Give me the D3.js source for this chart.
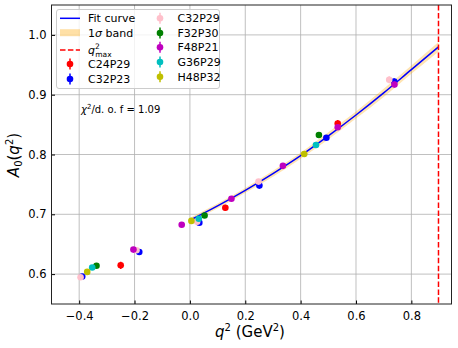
<!DOCTYPE html>
<html>
<head>
<meta charset="utf-8">
<script src="https://cdn.jsdelivr.net/npm/d3@7"></script>
<style>
  body { margin: 0; background: #fff; }
  svg { display: block; font-family: "DejaVu Sans", sans-serif; }
</style>
</head>
<body>
<div id="chart"></div>
<script>
// ---- data ----
var xTicks = [-0.4, -0.2, 0.0, 0.2, 0.4, 0.6, 0.8];
var yTicks = [0.6, 0.7, 0.8, 0.9, 1.0];
var qmax = 0.898;
var chi2 = "1.09";

// fit curve and 1 sigma band
var fitQ2 = [0.0, 0.1, 0.2, 0.3, 0.4, 0.5, 0.6, 0.7, 0.8, 0.898];
var fitA = [0.690, 0.714, 0.740, 0.768, 0.798, 0.831, 0.866, 0.903, 0.942, 0.980];
var fitErr = [0.004, 0.004, 0.004, 0.005, 0.005, 0.006, 0.006, 0.007, 0.007, 0.008];

var ensembles = ["C24P29", "C32P23", "C32P29", "F32P30", "F48P21", "G36P29", "H48P32"];
var ensColors = ["red", "blue", "pink", "green", "#bf00bf", "#00bfbf", "#bfbf00"];

var q2C24P29 = [-0.250, 0.128, 0.534];
var aC24P29 = [0.6147, 0.711, 0.8517];
var eC24P29 = [0.006, 0.005, 0.006];

var q2C32P23 = [-0.389, -0.183, 0.034, 0.251, 0.493, 0.738];
var aC32P23 = [0.596, 0.637, 0.686, 0.748, 0.828, 0.922];
var eC32P23 = [0.003, 0.003, 0.003, 0.003, 0.004, 0.005];

var q2C32P29 = [-0.395, -0.193, 0.026, 0.248, 0.720];
var aC32P29 = [0.5947, 0.640, 0.6875, 0.7547, 0.925];
var eC32P29 = [0.003, 0.003, 0.003, 0.004, 0.006];

var q2F32P30 = [-0.3375, 0.053, 0.466];
var aF32P30 = [0.614, 0.698, 0.8325];
var eF32P30 = [0.003, 0.003, 0.004];

var q2F48P21 = [-0.204, -0.0296, 0.150, 0.336, 0.534, 0.739];
var aF48P21 = [0.641, 0.6825, 0.726, 0.781, 0.8455, 0.917];
var eF48P21 = [0.003, 0.003, 0.003, 0.003, 0.004, 0.005];

var q2G36P29 = [-0.353, 0.032, 0.4555];
var aG36P29 = [0.611, 0.6925, 0.816];
var eG36P29 = [0.003, 0.003, 0.004];

var q2H48P32 = [-0.371, 0.0054, 0.413];
var aH48P32 = [0.6037, 0.689, 0.8008];
var eH48P32 = [0.003, 0.003, 0.004];

var seriesQ2 = [q2C24P29, q2C32P23, q2C32P29, q2F32P30, q2F48P21, q2G36P29, q2H48P32];
var seriesA = [aC24P29, aC32P23, aC32P29, aF32P30, aF48P21, aG36P29, aH48P32];
var seriesE = [eC24P29, eC32P23, eC32P29, eF32P30, eF48P21, eG36P29, eH48P32];

// ---- layout ----
var W = 458, H = 348;
var plot = { left: 51.5, right: 451.5, top: 5, bottom: 304 };

var x = d3.scaleLinear().domain([-0.5, 0.945]).range([plot.left, plot.right]);
var y = d3.scaleLinear().domain([0.55, 1.05]).range([plot.bottom, plot.top]);

var svg = d3.select("#chart").append("svg").attr("width", W).attr("height", H);

// clip
svg.append("clipPath").attr("id", "clip")
  .append("rect")
  .attr("x", plot.left).attr("y", plot.top)
  .attr("width", plot.right - plot.left).attr("height", plot.bottom - plot.top);

// grid
var grid = svg.append("g").attr("class", "grid");
grid.selectAll(".gx").data(xTicks).enter().append("line")
  .attr("x1", d => x(d)).attr("x2", d => x(d))
  .attr("y1", plot.top).attr("y2", plot.bottom)
  .attr("stroke", "#b0b0b0").attr("stroke-width", 0.8);
grid.selectAll(".gy").data(yTicks).enter().append("line")
  .attr("y1", d => y(d)).attr("y2", d => y(d))
  .attr("x1", plot.left).attr("x2", plot.right)
  .attr("stroke", "#b0b0b0").attr("stroke-width", 0.8);

var g = svg.append("g").attr("clip-path", "url(#clip)");

// 1 sigma band
var fitRows = fitQ2.map((q, i) => ({ q: q, a: fitA[i], e: fitErr[i] }));
g.append("path")
  .datum(fitRows)
  .attr("fill", "orange")
  .attr("fill-opacity", 0.3)
  .attr("d", d3.area().curve(d3.curveMonotoneX)
    .x(d => x(d.q)).y0(d => y(d.a - d.e)).y1(d => y(d.a + d.e)));

// fit curve
g.append("path")
  .datum(fitRows)
  .attr("fill", "none")
  .attr("stroke", "blue")
  .attr("stroke-width", 1.5)
  .attr("d", d3.line().curve(d3.curveMonotoneX).x(d => x(d.q)).y(d => y(d.a)));

// qmax line
g.append("line")
  .attr("x1", x(qmax)).attr("x2", x(qmax))
  .attr("y1", plot.top).attr("y2", plot.bottom)
  .attr("stroke", "red").attr("stroke-width", 1.5)
  .attr("stroke-dasharray", "5.5,2.4");

// data points with error bars
ensembles.forEach(function (name, k) {
  var rows = seriesQ2[k].map((q, i) => ({ q: q, a: seriesA[k][i], e: seriesE[k][i] }));
  var sg = g.append("g").attr("class", "ens-" + name);
  sg.selectAll("line").data(rows).enter().append("line")
    .attr("x1", d => x(d.q)).attr("x2", d => x(d.q))
    .attr("y1", d => y(d.a - d.e)).attr("y2", d => y(d.a + d.e))
    .attr("stroke", ensColors[k]).attr("stroke-width", 1.5);
  sg.selectAll("circle").data(rows).enter().append("circle")
    .attr("cx", d => x(d.q)).attr("cy", d => y(d.a))
    .attr("r", 3.3).attr("fill", ensColors[k]);
});

// axes (ticks pointing inward)
var xAxis = svg.append("g")
  .attr("transform", "translate(0," + plot.bottom + ")")
  .call(d3.axisBottom(x).tickValues(xTicks).tickFormat(d3.format(".1f")).tickSizeInner(-3.5).tickSizeOuter(0).tickPadding(7));
var yAxis = svg.append("g")
  .attr("transform", "translate(" + plot.left + ",0)")
  .call(d3.axisLeft(y).tickValues(yTicks).tickFormat(d3.format(".1f")).tickSizeInner(-3.5).tickSizeOuter(0).tickPadding(6));
[xAxis, yAxis].forEach(function (ax) {
  ax.select(".domain").remove();
  ax.selectAll("text").attr("font-size", 11.5).attr("fill", "#000")
    .attr("font-family", "DejaVu Sans, sans-serif");
  ax.selectAll("line").attr("stroke", "#000");
});
xAxis.selectAll("text").attr("dy", "0.75em");
yAxis.selectAll("text").attr("x", -5);

// frame
svg.append("rect")
  .attr("x", plot.left).attr("y", plot.top)
  .attr("width", plot.right - plot.left).attr("height", plot.bottom - plot.top)
  .attr("fill", "none").attr("stroke", "#222").attr("stroke-width", 1);

// axis labels
var xl = svg.append("text")
  .attr("x", 250).attr("y", 337)
  .attr("text-anchor", "middle").attr("font-size", 15);
xl.append("tspan").attr("font-style", "italic").text("q");
xl.append("tspan").attr("font-size", 10).attr("dy", -6).text("2");
xl.append("tspan").attr("dy", 6).text(" (GeV");
xl.append("tspan").attr("font-size", 10).attr("dy", -6).text("2");
xl.append("tspan").attr("dy", 6).text(")");

var yl = svg.append("text")
  .attr("transform", "translate(19,155) rotate(-90)")
  .attr("text-anchor", "middle").attr("font-size", 15);
yl.append("tspan").attr("font-style", "italic").text("A");
yl.append("tspan").attr("font-size", 10).attr("dy", 3).text("0");
yl.append("tspan").attr("dy", -3).text("(");
yl.append("tspan").attr("font-style", "italic").text("q");
yl.append("tspan").attr("font-size", 10).attr("dy", -6).text("2");
yl.append("tspan").attr("dy", 6).text(")");

// chi2 annotation
var ct = svg.append("text").attr("x", 81).attr("y", 113).attr("font-size", 10);
ct.append("tspan").attr("font-style", "italic").text("χ");
ct.append("tspan").attr("font-size", 7).attr("dy", -4).text("2");
ct.append("tspan").attr("dy", 4).text("/d. o. f = " + chi2);

// legend
var leg = svg.append("g");
leg.append("rect")
  .attr("x", 56.5).attr("y", 9.5).attr("width", 163).attr("height", 79)
  .attr("rx", 2.5).attr("fill", "#fff").attr("fill-opacity", 0.8)
  .attr("stroke", "#ccc").attr("stroke-width", 1);

var col1Y = [18.3, 32.7, 50, 64, 79];
var col2Y = [18.3, 33, 47.3, 62, 76.7];
var hx0 = 60, hx1 = 80, tx1 = 88;
var mx2 = 160, tx2 = 177.5;

leg.append("line").attr("x1", hx0).attr("x2", hx1).attr("y1", col1Y[0]).attr("y2", col1Y[0])
  .attr("stroke", "blue").attr("stroke-width", 1.5);
leg.append("rect").attr("x", hx0).attr("y", col1Y[1] - 3.5).attr("width", hx1 - hx0).attr("height", 7)
  .attr("fill", "orange").attr("fill-opacity", 0.35);
leg.append("line").attr("x1", hx0).attr("x2", hx1).attr("y1", col1Y[2]).attr("y2", col1Y[2])
  .attr("stroke", "red").attr("stroke-width", 1.5).attr("stroke-dasharray", "5.5,2.4");

function legText(tx, ty) {
  return leg.append("text").attr("x", tx).attr("y", ty).attr("dy", "0.36em").attr("font-size", 11);
}
legText(tx1, col1Y[0]).text("Fit curve");
var s1 = legText(tx1, col1Y[1]);
s1.append("tspan").text("1");
s1.append("tspan").attr("font-style", "italic").text("σ");
s1.append("tspan").text(" band");
var qm = legText(tx1, col1Y[2]);
qm.append("tspan").attr("font-style", "italic").text("q");
qm.append("tspan").attr("font-size", 7.5).attr("dy", -5).text("2");
qm.append("tspan").attr("font-size", 7.5).attr("dx", -4.5).attr("dy", 8.5).text("max");

function legMarker(mx, my, color) {
  leg.append("line").attr("x1", mx).attr("x2", mx).attr("y1", my - 5.5).attr("y2", my + 5.5)
    .attr("stroke", color).attr("stroke-width", 1.5);
  leg.append("circle").attr("cx", mx).attr("cy", my).attr("r", 3.3).attr("fill", color);
}
ensembles.forEach(function (name, k) {
  var mx, my, tx;
  if (k < 2) { mx = (hx0 + hx1) / 2; my = col1Y[3 + k]; tx = tx1; }
  else { mx = mx2; my = col2Y[k - 2]; tx = tx2; }
  legMarker(mx, my, ensColors[k]);
  legText(tx, my).text(name);
});
</script>
</body>
</html>
